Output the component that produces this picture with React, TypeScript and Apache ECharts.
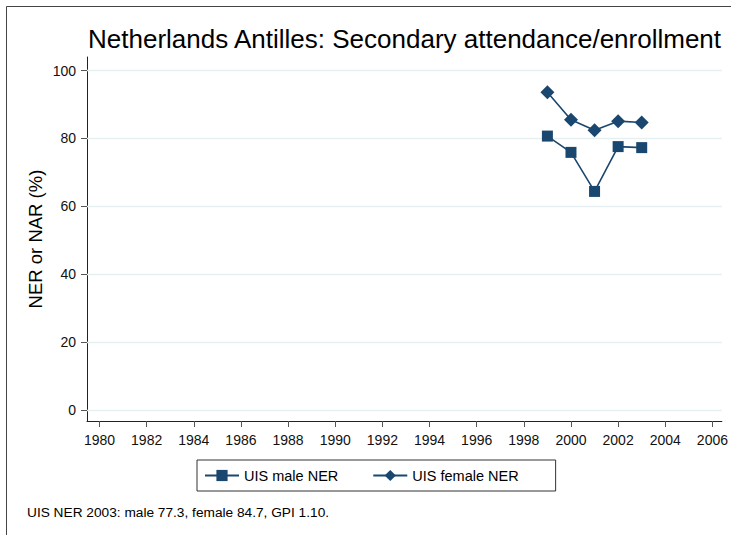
import React, { useEffect, useRef } from "react";
import * as echarts from "echarts";

const years = [1999, 2000, 2001, 2002, 2003];
const maleNER = [80.7, 75.9, 64.4, 77.6, 77.3];
const femaleNER = [93.6, 85.5, 82.4, 85.1, 84.7];
const xTicks = [1980, 1982, 1984, 1986, 1988, 1990, 1992, 1994, 1996, 1998, 2000, 2002, 2004, 2006];
const yTicks = [0, 20, 40, 60, 80, 100];
const titleText = "Netherlands Antilles: Secondary attendance/enrollment";
const noteText = "UIS NER 2003: male 77.3, female 84.7, GPI 1.10.";

const NAVY = "#1a476f";
const FONT = "Liberation Sans, Arial, sans-serif";

export default function App() {
  const ref = useRef<HTMLDivElement>(null);
  useEffect(() => {
    if (!ref.current) return;
    const chart = echarts.init(ref.current, null, { renderer: "svg" });
    chart.setOption({
      animation: false,
      backgroundColor: "#ffffff",
      textStyle: { fontFamily: FONT },
      title: {
        text: titleText,
        left: 88,
        top: 26,
        padding: 0,
        textStyle: { fontSize: 26, fontWeight: "normal", color: "#000", fontFamily: FONT },
      },
      graphic: [
        {
          type: "rect",
          shape: { x: 6.5, y: 6.5, width: 760, height: 560 },
          style: { fill: "none", stroke: "#444", lineWidth: 1 },
          silent: true,
        },
        {
          type: "text",
          left: 27,
          top: 505,
          style: { text: noteText, fontSize: 13.7, fill: "#000", fontFamily: FONT },
        },
      ],
      legend: {
        left: 197,
        top: 460,
        padding: [8, 37, 8, 7],
        itemWidth: 34,
        itemHeight: 14,
        itemGap: 34,
        borderColor: "#333",
        borderWidth: 1,
        borderRadius: 0,
        textStyle: { fontSize: 14.5, color: "#000", fontFamily: FONT },
        data: ["UIS male NER", "UIS female NER"],
      },
      grid: { left: 87, right: 9, top: 57, bottom: 114, containLabel: false },
      xAxis: {
        type: "value",
        min: 1979.47,
        max: 2006.4,
        axisLine: { show: true, onZero: false, lineStyle: { color: "#222", width: 1 } },
        axisTick: { show: true, length: 6, customValues: xTicks, lineStyle: { color: "#555" } },
        axisLabel: {
          customValues: xTicks,
          fontSize: 14,
          color: "#111",
          margin: 12,
          fontFamily: FONT,
          formatter: (v: number) => String(Math.round(v)),
        },
        splitLine: { show: false },
      },
      yAxis: {
        type: "value",
        min: -3.24,
        max: 104,
        name: "NER or NAR (%)",
        nameLocation: "middle",
        nameGap: 42,
        nameMoveOverlap: false,
        nameTextStyle: { fontSize: 18.5, color: "#000", fontFamily: FONT },
        axisLine: { show: true, onZero: false, lineStyle: { color: "#222", width: 1 } },
        axisTick: { show: true, length: 6, customValues: yTicks, lineStyle: { color: "#555" } },
        axisLabel: {
          customValues: yTicks,
          fontSize: 14,
          color: "#111",
          margin: 11,
          fontFamily: FONT,
          formatter: (v: number) => String(Math.round(v)),
        },
        splitLine: { show: false },
      },
      series: [
        {
          name: "UIS male NER",
          type: "line",
          data: years.map((y, i) => [y, maleNER[i]]),
          symbol: "rect",
          symbolSize: 11,
          color: NAVY,
          lineStyle: { color: NAVY, width: 1.6 },
          itemStyle: { color: NAVY },
          z: 3,
          markLine: {
            silent: true,
            symbol: "none",
            label: { show: false },
            lineStyle: { color: "#e6eff1", type: "solid", width: 1.3 },
            data: yTicks.map((v) => ({ yAxis: v })),
            z: 1,
          },
        },
        {
          name: "UIS female NER",
          type: "line",
          data: years.map((y, i) => [y, femaleNER[i]]),
          symbol: "diamond",
          symbolSize: 14,
          color: NAVY,
          lineStyle: { color: NAVY, width: 1.6 },
          itemStyle: { color: NAVY },
          z: 3,
        },
      ],
    });
    return () => chart.dispose();
  }, []);
  return (
    <div
      ref={ref}
      style={{ position: "fixed", left: 0, top: 0, width: 731, height: 535 }}
    />
  );
}
